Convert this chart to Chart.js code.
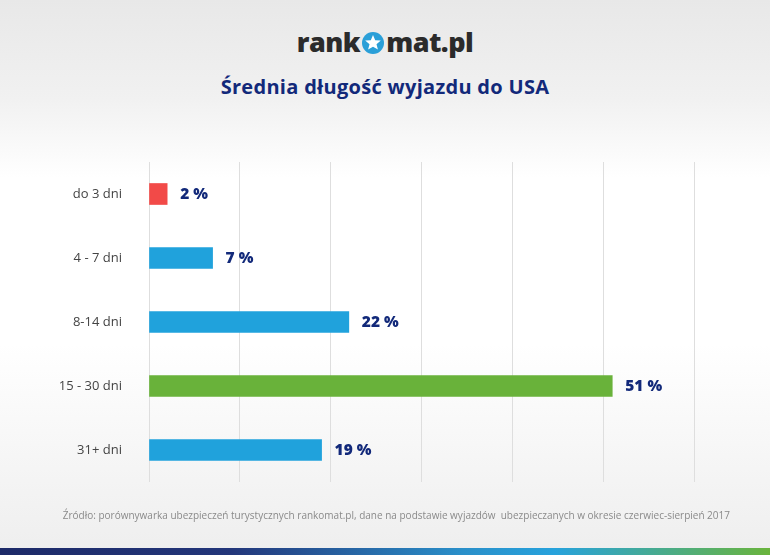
<!DOCTYPE html>
<html lang="pl">
<head>
<meta charset="utf-8">
<script src="https://cdn.jsdelivr.net/npm/chart.js@4/dist/chart.umd.min.js"></script>
<style>
  html, body { margin: 0; padding: 0; }
  body {
    width: 770px; height: 555px; position: relative; overflow: hidden;
    font-family: "Open Sans", sans-serif;
    background: linear-gradient(to bottom, #e8e8e8 0%, #f1f1f1 18%, #ffffff 32%, #ffffff 62%, #eeeeee 100%);
  }
  #logo {
    position: absolute; top: 24px; left: 0; width: 770px; text-align: center;
    font-weight: 800; font-size: 27px; color: #2b2b2b; letter-spacing: -0.5px; line-height: 36px;
  }
  #logo svg { vertical-align: -3px; margin: 0 1px; }
  #title {
    position: absolute; top: 73px; left: 0; width: 770px; text-align: center;
    font-weight: 700; font-size: 20px; letter-spacing: 0.3px; color: #12297a;
  }
  #source {
    position: absolute; top: 508px; right: 40px;
    font-size: 10px; color: #8a8a8a;
  }
  #strip {
    position: absolute; left: 0; bottom: 0; width: 770px; height: 7px;
    background: linear-gradient(to right, #1d2a68 0%, #23367a 30%, #2a8fc9 60%, #27a2dc 72%, #6ab43c 100%);
  }
  #wrap { position: absolute; left: 0; top: 0; width: 770px; height: 555px; }
</style>
</head>
<body>
<div id="logo">rank<svg width="24" height="24" viewBox="0 0 24 24"><circle cx="12" cy="12" r="11" fill="#2a9fd8"/><polygon fill="#fff" points="12,4 14.2,9.2 19.8,9.6 15.5,13.2 16.9,18.6 12,15.7 7.1,18.6 8.5,13.2 4.2,9.6 9.8,9.2"/></svg>mat.pl</div>
<div id="title">Średnia długość wyjazdu do USA</div>
<div id="wrap"><canvas id="chart" width="770" height="555"></canvas></div>
<div id="source">Źródło: porównywarka ubezpieczeń turystycznych rankomat.pl, dane na podstawie wyjazdów&nbsp; ubezpieczanych w okresie czerwiec-sierpień 2017</div>
<div id="strip"></div>

<script>
// dane
const categories = ['do 3 dni', '4 - 7 dni', '8-14 dni', '15 - 30 dni', '31+ dni'];
const shares = [2, 7, 22, 51, 19];
const barColors = ['#f24a48', '#20a2dc', '#20a2dc', '#69b23a', '#20a2dc'];

// etykiety z wartościami przy końcu słupka
const valueLabels = {
    id: 'valueLabels',
    afterDatasetsDraw(chart) {
        const ctx = chart.ctx;
        const meta = chart.getDatasetMeta(0);
        ctx.save();
        ctx.font = '800 15.5px "Open Sans", sans-serif';
        ctx.fillStyle = '#12297a';
        ctx.textBaseline = 'middle';
        meta.data.forEach((bar, i) => {
            ctx.fillText(shares[i] + ' %', bar.x + 13, bar.y + 1);
        });
        ctx.restore();
    }
};

new Chart(document.getElementById('chart'), {
    type: 'bar',
    data: {
        labels: categories,
        datasets: [{
            data: shares,
            backgroundColor: barColors,
            barThickness: 21
        }]
    },
    options: {
        indexAxis: 'y',
        responsive: false,
        animation: false,
        layout: { padding: { top: 162, right: 76, bottom: 73, left: 0 } },
        plugins: {
            legend: { display: false },
            tooltip: { enabled: false }
        },
        scales: {
            x: {
                min: 0,
                max: 60,
                ticks: { display: false, stepSize: 10 },
                border: { display: false },
                grid: { color: '#dedede', drawTicks: false }
            },
            y: {
                afterFit: scale => { scale.width = 149; },
                border: { display: false },
                grid: { display: false, drawTicks: false },
                ticks: {
                    padding: 27,
                    color: '#444444',
                    font: { family: '"Open Sans", sans-serif', size: 13 }
                }
            }
        }
    },
    plugins: [valueLabels]
});
</script>
</body>
</html>
